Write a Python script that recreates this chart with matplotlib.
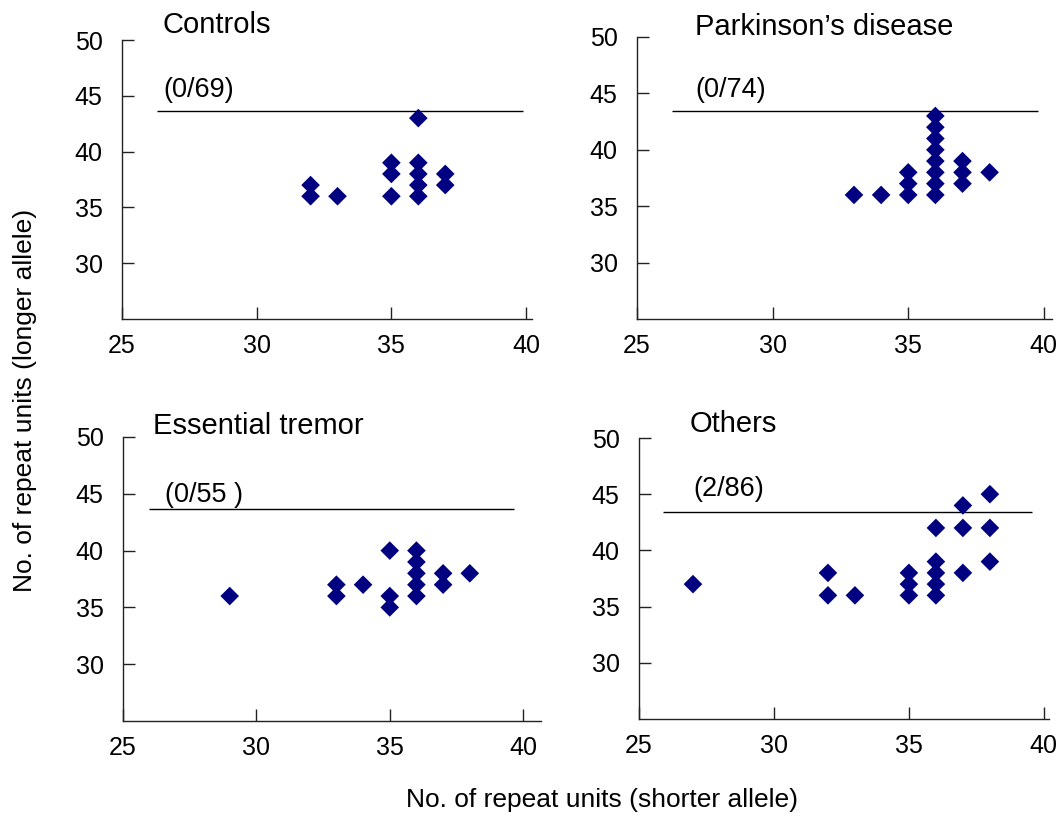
import matplotlib
matplotlib.use("Agg")
import matplotlib.pyplot as plt

plt.rcParams['font.family'] = ['Liberation Sans', 'DejaVu Sans']

# ---- data ----
titles = ["Controls", "Parkinson\u2019s disease", "Essential tremor", "Others"]
counts = ["(0/69)", "(0/74)", "(0/55 )", "(2/86)"]

controls_x = [32, 32, 33, 35, 35, 35, 36, 36, 36, 36, 36, 37, 37]
controls_y = [36, 37, 36, 36, 38, 39, 36, 37, 38, 39, 43, 37, 38]

pd_x = [33, 34, 35, 35, 35, 36, 36, 36, 36, 36, 36, 36, 36, 37, 37, 37, 38]
pd_y = [36, 36, 36, 37, 38, 36, 37, 38, 39, 40, 41, 42, 43, 37, 38, 39, 38]

et_x = [29, 33, 33, 34, 35, 35, 35, 36, 36, 36, 36, 36, 37, 37, 38]
et_y = [36, 36, 37, 37, 35, 36, 40, 36, 37, 38, 39, 40, 37, 38, 38]

others_x = [27, 32, 32, 33, 35, 35, 35, 36, 36, 36, 36, 36, 37, 37, 37, 38, 38, 38]
others_y = [37, 36, 38, 36, 36, 37, 38, 36, 37, 38, 39, 42, 38, 42, 44, 39, 42, 45]

threshold = [43.6, 43.45, 43.7, 43.45]

x_ticks = [25, 30, 35, 40]
y_ticks = [30, 35, 40, 45, 50]

series = [(controls_x, controls_y), (pd_x, pd_y), (et_x, et_y), (others_x, others_y)]

# ---- layout (pixels) ----
W, H = 1063, 816
boxes = [  # left, right, bottom, top (px), xmax
    (122, 532, 319, 40, 40.22),
    (637, 1052, 319, 37, 40.30),
    (123, 541, 721, 437, 40.67),
    (639, 1049, 719, 438, 40.19),
]
line_x = [(26.3, 39.9), (26.3, 39.8), (25.97, 39.64), (25.9, 39.56)]
title_pos = [(162, 25), (695, 27), (153, 426), (690, 424)]
count_pos = [(26.53, 45.5), (27.14, 45.3), (26.57, 44.9), (27.0, 45.5)]

fig = plt.figure(figsize=(W / 100, H / 100), dpi=100)

for i, ((l, r, b, t, xmax), (xs, ys)) in enumerate(zip(boxes, series)):
    ax = fig.add_axes([l / W, 1 - b / H, (r - l) / W, (b - t) / H])
    ax.scatter(xs, ys, marker='D', s=90, color='#000080', edgecolors='none', zorder=3)
    ax.hlines(threshold[i], line_x[i][0], line_x[i][1], color='black', lw=1.0, zorder=2)
    ax.text(count_pos[i][0], count_pos[i][1], counts[i], fontsize=19.5, va='center', ha='left')
    ax.set_xlim(25, xmax)
    ax.set_ylim(25, 50)
    ax.set_xticks(x_ticks)
    ax.set_yticks(y_ticks)
    ax.set_xticklabels([str(v) for v in x_ticks])
    ax.set_yticklabels([str(v) for v in y_ticks])
    for s in ['top', 'right']:
        ax.spines[s].set_visible(False)
    for s in ['left', 'bottom']:
        ax.spines[s].set_color('#222222')
        ax.spines[s].set_linewidth(1.0)
    ax.tick_params(axis='both', direction='in', length=8.5, width=1.0, color='#222222', labelsize=18)
    ax.tick_params(axis='x', pad=10.5)
    ax.tick_params(axis='y', pad=14)
    ax.patch.set_alpha(0)
    tx, ty = title_pos[i]
    fig.text(tx / W, 1 - ty / H, titles[i], fontsize=21, ha='left', va='center')

fig.text(25 / W, 1 - 400 / H, "No. of repeat units (longer allele)", rotation=90,
         fontsize=19, ha='center', va='center')
fig.text(602 / W, 1 - 800 / H, "No. of repeat units (shorter allele)",
         fontsize=19, ha='center', va='center')

fig.savefig("out.png", dpi=100, facecolor='white')
